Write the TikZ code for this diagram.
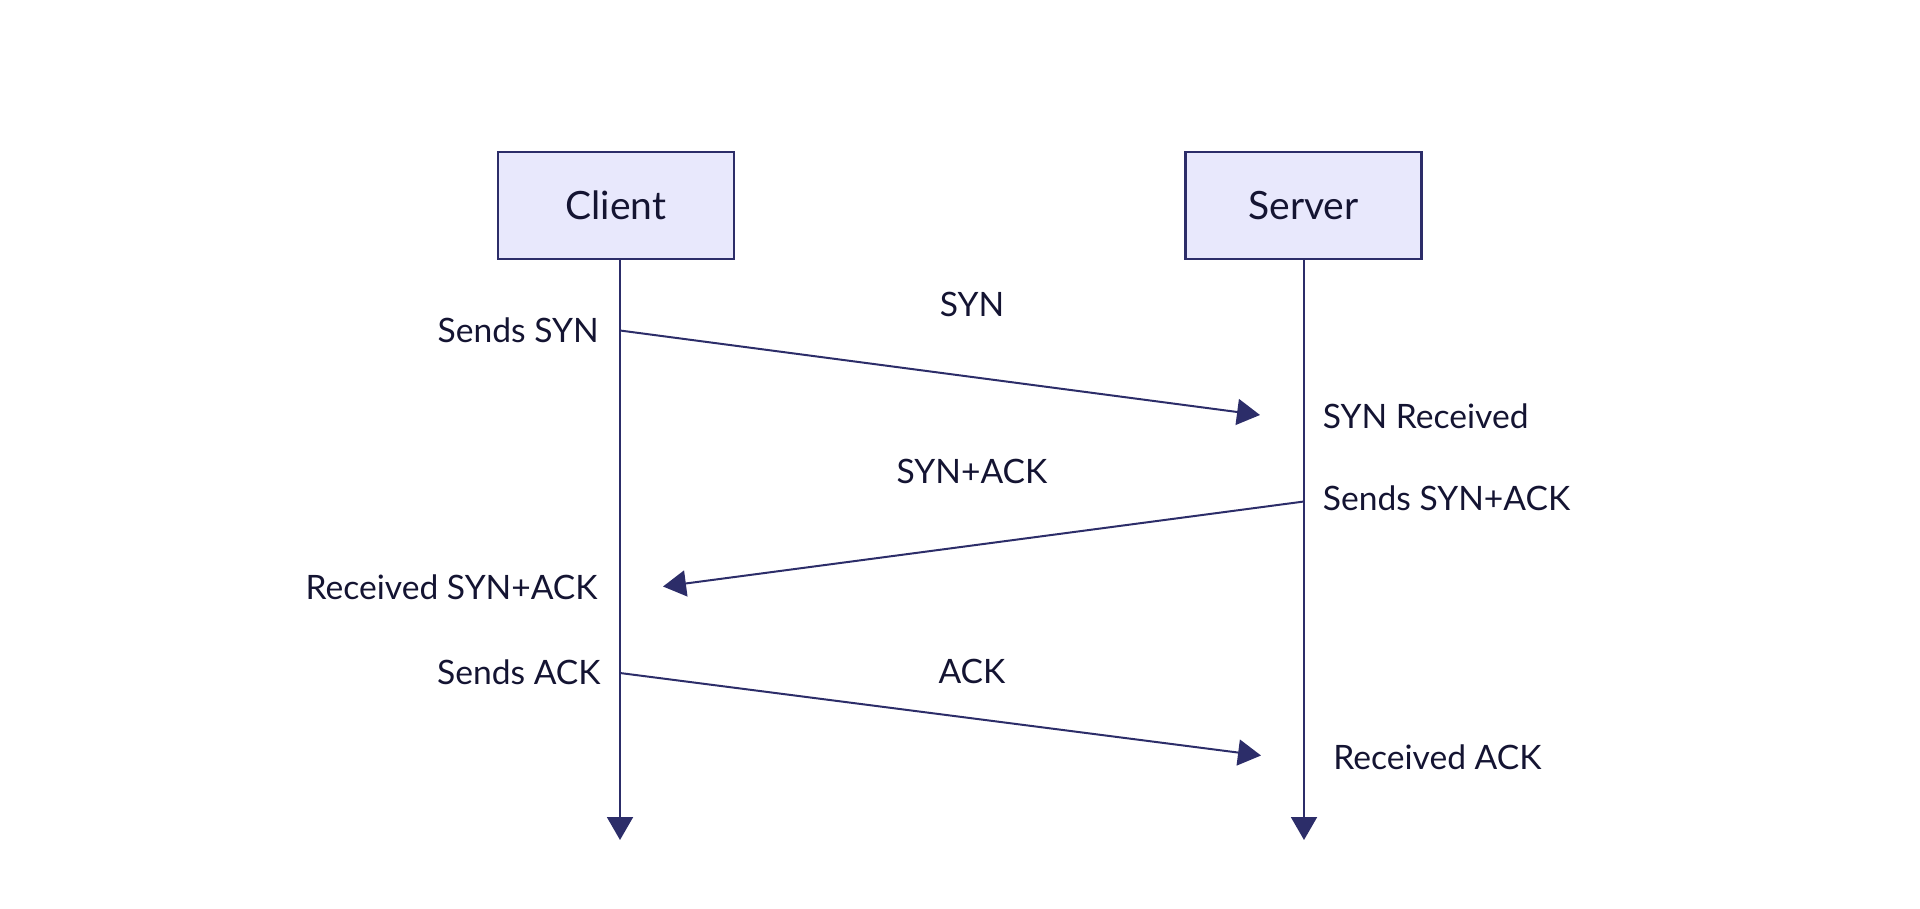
\documentclass[tikz,border=0pt]{standalone}
\usepackage{fontspec}
\setmainfont{Lato}
\usetikzlibrary{arrows.meta}
\definecolor{linecol}{HTML}{2C2D69}
\definecolor{boxfill}{HTML}{E8E8FC}
\definecolor{txtcol}{HTML}{141432}
\begin{document}
\begin{tikzpicture}[x=0.5pt,y=-0.5pt,
	every node/.style={text=txtcol,font=\fontsize{16.8}{20}\selectfont,inner sep=0pt},
	actor/.style={draw=linecol,fill=boxfill,line width=1.3pt,minimum width=118pt,minimum height=53.5pt,
		font=\fontsize{19.5}{23}\selectfont},
	life/.style={draw=linecol,line width=1pt,-{Triangle[length=11.5pt,width=13pt]}},
	msg/.style={draw=linecol,line width=1pt,-{Triangle[length=11.5pt,width=13pt]}}]
	\useasboundingbox (0,0) rectangle (1920,909);
	
	\node[actor] (client) at (616,205.5) {Client};
	\node[actor] (server) at (1303.5,205.5) {Server};
	
	\coordinate (cl0) at (620,259);
	\coordinate (cl1) at (620,840);
	\coordinate (sv0) at (1304,259);
	\coordinate (sv1) at (1304,840);
	\path (cl0) edge[life] (cl1);
	\path (sv0) edge[life] (sv1);
	
	% messages
	\coordinate (syn0) at (620,330.5);
	\coordinate (syn1) at (1260,415);
	\coordinate (sa0) at (1304,501.5);
	\coordinate (sa1) at (663,586.5);
	\coordinate (ack0) at (620,673);
	\coordinate (ack1) at (1261,755.5);
	\path (syn0) edge[msg] (syn1);
	\path (sa0) edge[msg] (sa1);
	\path (ack0) edge[msg] (ack1);
	
	\node (synlab) at (972,304) {SYN};
	\node (salab) at (972,471) {SYN+ACK};
	\node (acklab) at (972,671) {ACK};
	
	\node[anchor=east] (csyn) at (599,330.5) {Sends SYN};
	\node[anchor=east] (crsa) at (598,587.5) {Received SYN+ACK};
	\node[anchor=east] (cack) at (601,672.5) {Sends ACK};
	\node[anchor=west] (srsyn) at (1322.5,416) {SYN Received};
	\node[anchor=west] (ssa) at (1322.5,498.5) {Sends SYN+ACK};
	\node[anchor=west] (srack) at (1333,757) {Received ACK};
\end{tikzpicture}
\end{document}
